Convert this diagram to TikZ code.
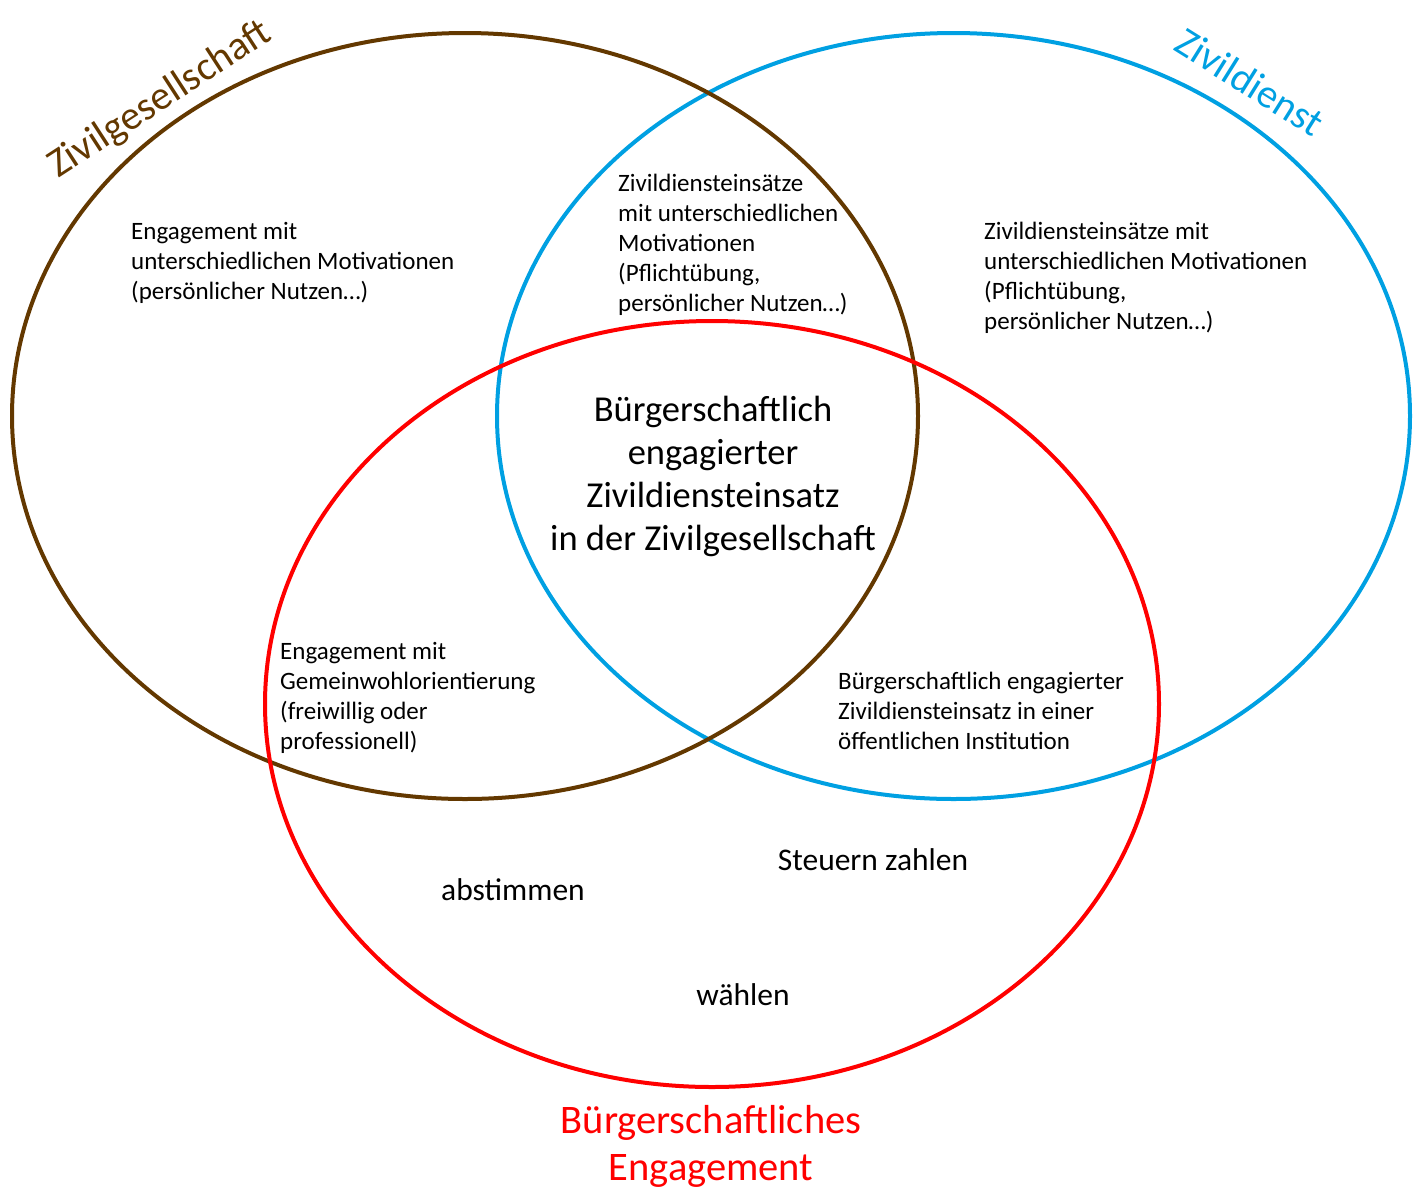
\documentclass[tikz,border=0pt]{standalone}
\usepackage{fontspec}
\setmainfont{Carlito}
\usetikzlibrary{positioning}
\definecolor{zgbrown}{RGB}{99,56,0}
\definecolor{zdblue}{RGB}{0,160,226}
\definecolor{bered}{RGB}{255,0,0}

\begin{document}
\begin{tikzpicture}[
    x=1pt, y=-1pt,
    % --- Stile ---
    % Kreise
    ring/.style={line width=4pt},
    % kleine Texte in den Feldern
    small/.style={align=left, inner sep=0pt, font=\fontsize{25}{30}\selectfont},
    % Schnittmenge aller drei
    big/.style={align=center, inner sep=0pt, font=\fontsize{36.5}{43}\selectfont},
    % einzelne Stichworte
    word/.style={inner sep=0pt, font=\fontsize{31.5}{36}\selectfont},
    % Namen der Mengen
    title/.style={align=center, inner sep=0pt, font=\fontsize{40.5}{47}\selectfont}
]
\useasboundingbox (0,0) rectangle (1419,1187);

% --- 1. Ellipsen ---
\draw[ring, zdblue] (953.5,416) ellipse [x radius=456.5pt, y radius=383pt];
\draw[ring, zgbrown] (465,416) ellipse [x radius=453pt, y radius=383pt];
\draw[ring, bered] (712,704) ellipse [x radius=447pt, y radius=383pt];

% --- 2. Namen ---
\node[title, text=zgbrown, rotate=33] (zgName) at (160,100) {Zivilgesellschaft};
\node[title, text=zdblue, rotate=-32] (zdName) at (1250,82) {Zivildienst};
\node[title, text=bered] (beName) at (711,1146) {Bürgerschaftliches\\Engagement};

% --- 3. Felder ---
\node[small, anchor=west] (zgOnly) at (131,263)
    {Engagement mit\\unterschiedlichen Motivationen\\(persönlicher Nutzen…)};
\node[small, anchor=west] (zgzd) at (618,245)
    {Zivildiensteinsätze\\mit unterschiedlichen\\Motivationen\\(Pflichtübung,\\persönlicher Nutzen…)};
\node[small, anchor=west] (zdOnly) at (984,278)
    {Zivildiensteinsätze mit\\unterschiedlichen Motivationen\\(Pflichtübung,\\persönlicher Nutzen…)};
\node[big] (allThree) at (713,476)
    {Bürgerschaftlich\\engagierter\\Zivildiensteinsatz\\in der Zivilgesellschaft};
\node[small, anchor=west] (zgbe) at (280,698)
    {Engagement mit\\Gemeinwohlorientierung\\(freiwillig oder\\professionell)};
\node[small, anchor=west] (zdbe) at (838,711)
    {Bürgerschaftlich engagierter\\Zivildiensteinsatz in einer\\öffentlichen Institution};

% --- 4. Nur Engagement ---
\node[word] (abst) at (513,890) {abstimmen};
\node[word] (steuer) at (873,860) {Steuern zahlen};
\node[word] (waehl) at (743,995) {wählen};

\end{tikzpicture}
\end{document}
